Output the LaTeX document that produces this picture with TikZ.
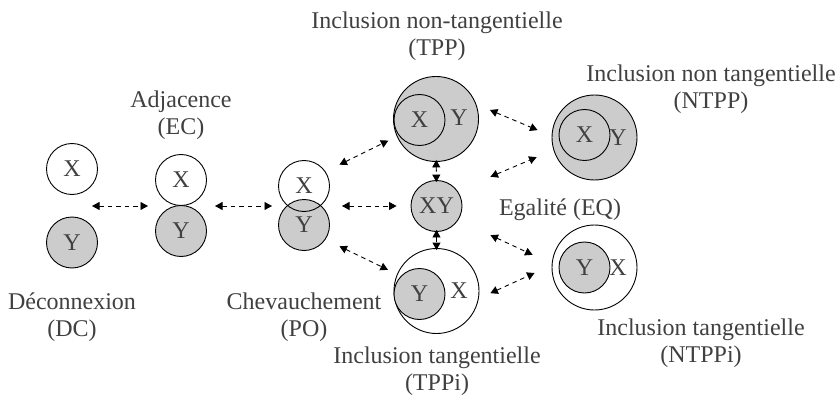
\documentclass[tikz,border=0pt]{standalone}
\usepackage{fontspec}
\setmainfont{Liberation Serif}
\usepackage{xcolor}
\usetikzlibrary{arrows.meta}
\definecolor{rcgrey}{HTML}{CCCCCC}
\definecolor{rctext}{HTML}{404040}
\tikzset{
  region/.style={circle, draw=black, line width=0.9pt, inner sep=0pt, minimum size=51pt,
    text=rctext, font=\fontsize{24}{26}\selectfont},
  filled/.style={region, fill=rcgrey},
  hollow/.style={region, fill=white},
  big/.style={minimum size=85pt},
  inner/.style={inner sep=0pt, text=rctext, font=\fontsize{24}{26}\selectfont},
  caption/.style={align=center, inner sep=0pt, text=rctext, font=\fontsize{24}{26.5}\selectfont},
  rel/.style={{Triangle[length=7.5pt,width=8pt]}-{Triangle[length=7.5pt,width=8pt]},
    dash pattern=on 4.5pt off 4pt, line width=0.9pt},
}
\begin{document}
\begin{tikzpicture}[x=1pt, y=-1pt]
\useasboundingbox (0,0) rectangle (837,398);

% DC
\node[hollow] (dcX) at (72,169) {X};
\node[filled] (dcY) at (72,242.5) {Y};
\node[caption] (dcL) at (72,317) {Déconnexion\\(DC)};
% EC
\node[hollow] (ecX) at (181,180) {X};
\node[filled] (ecY) at (181,231) {Y};
\node[caption] (ecL) at (181,115) {Adjacence\\(EC)};
% PO
\node[filled] (poY) at (304,225) {Y};
\node[region] (poX) at (304,186) {X};
\node[caption] (poL) at (304,317) {Chevauchement\\(PO)};
% TPP
\node[filled, big] (tpp) at (436,119) {};
\node[region] (tppX) at (419.5,120) {X};
\node[inner] (tppYl) at (459,118) {Y};
\node[caption] (tppL) at (437,36) {Inclusion non-tangentielle\\(TPP)};
% EQ
\node[filled] (eq) at (436.5,206) {XY};
\node[caption] (eqL) at (560,210) {Egalité (EQ)};
% TPPi
\node[hollow, big] (tppi) at (436.5,291) {};
\node[filled] (tppiY) at (419.5,294) {Y};
\node[inner] (tppiXl) at (459,291) {X};
\node[caption] (tppiL) at (437,371) {Inclusion tangentielle\\(TPPi)};
% NTPP
\node[filled, big] (ntpp) at (594.5,137.5) {};
\node[region] (ntppX) at (584.5,135) {X};
\node[inner] (ntppYl) at (618,138) {Y};
\node[caption] (ntppL) at (711,89) {Inclusion non tangentielle\\(NTPP)};
% NTPPi
\node[hollow, big] (ntppi) at (594.5,267.5) {};
\node[filled] (ntppiY) at (584.5,267.5) {Y};
\node[inner] (ntppiXl) at (618,268) {X};
\node[caption] (ntppiL) at (701,343) {Inclusion tangentielle\\(NTPPi)};

% transitions
\coordinate (dc) at (72,206);
\coordinate (ec) at (181,206);
\coordinate (po) at (304,206);
\draw[rel, shorten <=20pt, shorten >=33pt] (dc) -- (ec);
\draw[rel, shorten <=34pt, shorten >=32pt] (ec) -- (po);
\draw[rel, shorten <=38pt, shorten >=14pt] (po) -- (eq);
\draw[rel, shorten <=15.5pt, shorten >=9.4pt] (poX.34) -- (tpp.204);
\draw[rel, shorten <=15.5pt, shorten >=10pt] (poY.-34) -- (tppi.157);
\draw[rel, shorten <=-2pt, shorten >=-2pt] (tpp) -- (eq);
\draw[rel, shorten <=-2pt, shorten >=-2pt] (eq) -- (tppi);
\draw[rel, shorten <=14.7pt, shorten >=15.2pt] (tpp.20) -- (ntpp.178);
\draw[rel, shorten <=35.8pt, shorten >=18.3pt] (eq.36) -- (ntpp.197);
\draw[rel, shorten <=35.5pt, shorten >=21.1pt] (eq.-33) -- (ntppi.175);
\draw[rel, shorten <=12.7pt, shorten >=18.7pt] (tppi.-10) -- (ntppi.177);
\end{tikzpicture}
\end{document}
